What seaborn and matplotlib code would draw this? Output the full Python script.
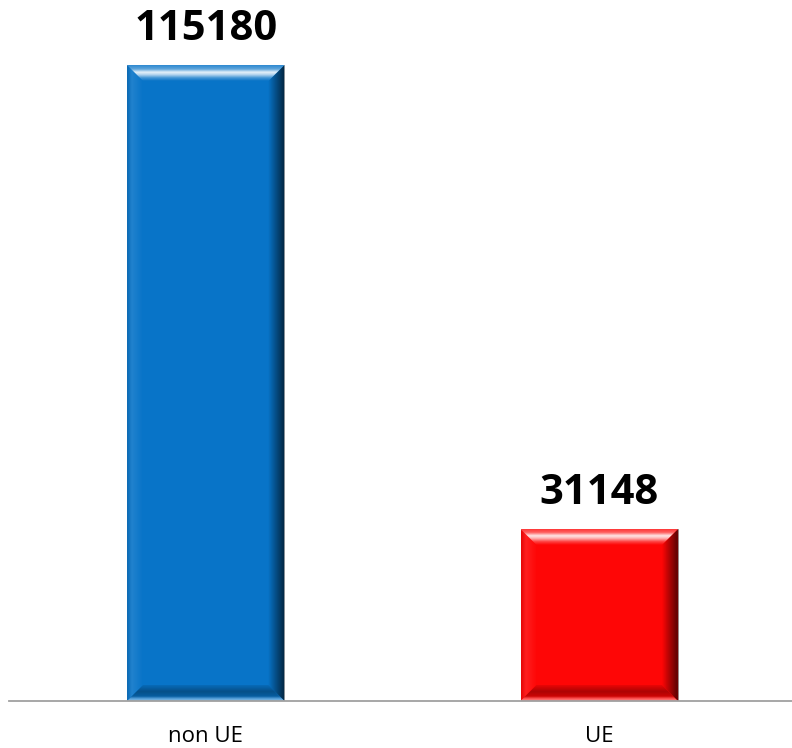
import matplotlib
matplotlib.use("Agg")
import matplotlib.pyplot as plt
import numpy as np
import pandas as pd
import seaborn as sns
from matplotlib.colors import LinearSegmentedColormap, to_rgb
from matplotlib.patches import Polygon

# dati del grafico
categories = ["non UE", "UE"]
values = [115180, 31148]
bar_colors = ["#0874C8", "#FE0606"]

BEVEL_PX = 16


def mix(c, other, t):
    return tuple((1 - t) * a + t * b for a, b in zip(to_rgb(c), to_rgb(other)))


def gradient_fill(ax, verts, stops, vertical=True, zorder=3):
    """Riempie un poligono con un gradiente lineare (imshow ritagliato)."""
    poly = Polygon(verts, closed=True, facecolor="none", edgecolor="none")
    ax.add_patch(poly)
    cmap = LinearSegmentedColormap.from_list("g", stops)
    n = 64
    vals = np.linspace(0, 1, n)
    arr = vals.reshape(n, 1) if vertical else vals.reshape(1, n)
    xs = [v[0] for v in verts]
    ys = [v[1] for v in verts]
    im = ax.imshow(arr, cmap=cmap, extent=(min(xs), max(xs), min(ys), max(ys)),
                   origin="upper", aspect="auto", interpolation="bilinear", zorder=zorder)
    im.set_clip_path(poly)


def add_bevel(ax, patch, base, px_x, px_y):
    x0, y0 = patch.get_x(), patch.get_y()
    x1, y1 = x0 + patch.get_width(), y0 + patch.get_height()
    bx, by = BEVEL_PX * px_x, BEVEL_PX * px_y
    white, black = "white", "black"

    left = [(x0, y0), (x0, y1), (x0 + bx, y1 - by), (x0 + bx, y0 + by)]
    gradient_fill(ax, left, [(0, mix(base, black, 0.1)), (0.3, mix(base, white, 0.1)),
                             (1, base)], vertical=False)

    right = [(x1 - bx, y0 + by), (x1 - bx, y1 - by), (x1, y1), (x1, y0)]
    gradient_fill(ax, right, [(0, base), (0.45, mix(base, black, 0.3)),
                              (1, mix(base, black, 0.65))], vertical=False)

    top = [(x0, y1), (x1, y1), (x1 - bx, y1 - by), (x0 + bx, y1 - by)]
    gradient_fill(ax, top, [(0, mix(base, white, 0.15)), (0.25, mix(base, white, 0.35)),
                            (0.45, mix(base, white, 0.9)), (0.6, mix(base, white, 0.7)),
                            (0.8, mix(base, white, 0.25)), (1, base)])

    bottom = [(x0 + bx, y0 + by), (x1 - bx, y0 + by), (x1, y0), (x0, y0)]
    gradient_fill(ax, bottom, [(0, mix(base, black, 0.08)), (0.4, mix(base, black, 0.32)),
                               (0.7, mix(base, black, 0.2)), (0.85, mix(base, white, 0.3)),
                               (1, mix(base, white, 0.55))])


sns.set_style("white")
plt.rcParams["font.family"] = ["Open Sans", "DejaVu Sans"]

df = pd.DataFrame({"cat": categories, "val": values})

fig = plt.figure(figsize=(7.92, 7.48), dpi=100)
ax = fig.add_axes([9 / 792, 47 / 748, 783 / 792, 701 / 748])

sns.barplot(data=df, x="cat", y="val", hue="cat", palette=bar_colors, width=0.4,
            saturation=1, legend=False, ax=ax, edgecolor="#8A8A8A", linewidth=0.6,
            zorder=2)

XLIM = (-0.5, 1.49)
YLIM = (0, 126950)
ax.set_xlim(*XLIM)
ax.set_ylim(*YLIM)
ax.set_autoscale_on(False)

fig_w, fig_h = fig.get_size_inches() * fig.dpi
pos = ax.get_position()
px_x = (XLIM[1] - XLIM[0]) / (pos.width * fig_w)
px_y = (YLIM[1] - YLIM[0]) / (pos.height * fig_h)

bars = sorted([p for c in ax.containers for p in c], key=lambda p: p.get_x())
for patch, base in zip(bars, bar_colors):
    add_bevel(ax, patch, base, px_x, px_y)

for cont in ax.containers:
    ax.bar_label(cont, fmt="{:.0f}", padding=11, fontsize=30, fontweight="bold",
                 color="black")

ax.set_xlim(*XLIM)
ax.set_ylim(*YLIM)

for side in ["left", "right", "top"]:
    ax.spines[side].set_visible(False)
ax.spines["bottom"].set_color("#A0A0A0")
ax.spines["bottom"].set_linewidth(1.3)
ax.spines["bottom"].set_zorder(5)

ax.set_yticks([])
ax.set_xlabel("")
ax.set_ylabel("")
ax.tick_params(axis="x", length=0, pad=18, labelsize=16, labelcolor="black")

fig.savefig("out.png", dpi=100)
plt.close(fig)
